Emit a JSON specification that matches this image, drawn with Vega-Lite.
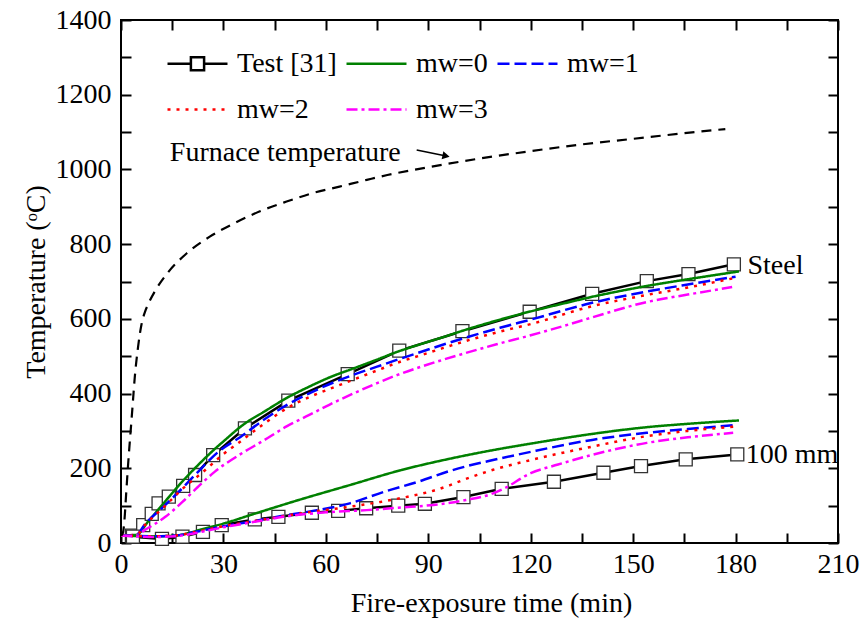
{
 "$schema": "https://vega.github.io/schema/vega-lite/v6.json",
 "width": 717,
 "height": 523,
 "autosize": {"type": "none"},
 "padding": {"left": 121, "top": 20, "right": 26, "bottom": 78},
 "background": "white",
 "config": {
  "view": {"stroke": "black", "strokeWidth": 2},
  "font": "Liberation Serif",
  "axis": {"labelFont": "Liberation Serif", "titleFont": "Liberation Serif", "labelFontSize": 28, "titleFontSize": 28, "labelColor": "black", "titleColor": "black", "titleFontWeight": "normal", "tickColor": "black", "tickWidth": 2, "grid": false, "domain": false, "labelFlush": false, "labelOverlap": false, "labelBound": false}
 },
 "datasets": {
  "curves": [
   {"series":"Test [31]","loc":"Steel","t":3.2,"T":20},{"series":"Test [31]","loc":"Steel","t":6.5,"T":48},{"series":"Test [31]","loc":"Steel","t":9,"T":78},{"series":"Test [31]","loc":"Steel","t":11,"T":106},{"series":"Test [31]","loc":"Steel","t":14,"T":124},{"series":"Test [31]","loc":"Steel","t":18.2,"T":153},{"series":"Test [31]","loc":"Steel","t":21.7,"T":182},{"series":"Test [31]","loc":"Steel","t":27,"T":235},{"series":"Test [31]","loc":"Steel","t":36.3,"T":307},{"series":"Test [31]","loc":"Steel","t":49,"T":381},{"series":"Test [31]","loc":"Steel","t":66.4,"T":452},{"series":"Test [31]","loc":"Steel","t":81.5,"T":515},{"series":"Test [31]","loc":"Steel","t":100,"T":567},{"series":"Test [31]","loc":"Steel","t":119.7,"T":619},{"series":"Test [31]","loc":"Steel","t":138,"T":667},{"series":"Test [31]","loc":"Steel","t":154,"T":701},{"series":"Test [31]","loc":"Steel","t":166.2,"T":720},{"series":"Test [31]","loc":"Steel","t":179.5,"T":746},
   {"series":"Test [31]","loc":"100 mm","t":3.5,"T":17},{"series":"Test [31]","loc":"100 mm","t":12,"T":11},{"series":"Test [31]","loc":"100 mm","t":18,"T":17},{"series":"Test [31]","loc":"100 mm","t":24,"T":30},{"series":"Test [31]","loc":"100 mm","t":29.5,"T":48},{"series":"Test [31]","loc":"100 mm","t":39.2,"T":63},{"series":"Test [31]","loc":"100 mm","t":46.1,"T":70},{"series":"Test [31]","loc":"100 mm","t":55.9,"T":81},{"series":"Test [31]","loc":"100 mm","t":63.6,"T":86},{"series":"Test [31]","loc":"100 mm","t":71.8,"T":93},{"series":"Test [31]","loc":"100 mm","t":81.2,"T":100},{"series":"Test [31]","loc":"100 mm","t":89,"T":105},{"series":"Test [31]","loc":"100 mm","t":100.3,"T":123},{"series":"Test [31]","loc":"100 mm","t":111.5,"T":145},{"series":"Test [31]","loc":"100 mm","t":126.8,"T":164},{"series":"Test [31]","loc":"100 mm","t":141.3,"T":188},{"series":"Test [31]","loc":"100 mm","t":152.3,"T":206},{"series":"Test [31]","loc":"100 mm","t":165.4,"T":224},{"series":"Test [31]","loc":"100 mm","t":180.5,"T":237},
   {"series":"mw=0","loc":"Steel","t":0,"T":20},{"series":"mw=0","loc":"Steel","t":4.5,"T":22},{"series":"mw=0","loc":"Steel","t":8,"T":58},{"series":"mw=0","loc":"Steel","t":13,"T":112},{"series":"mw=0","loc":"Steel","t":18,"T":165},{"series":"mw=0","loc":"Steel","t":22.5,"T":208},{"series":"mw=0","loc":"Steel","t":27.5,"T":252},{"series":"mw=0","loc":"Steel","t":30,"T":272},{"series":"mw=0","loc":"Steel","t":36,"T":318},{"series":"mw=0","loc":"Steel","t":42,"T":352},{"series":"mw=0","loc":"Steel","t":48.5,"T":388},{"series":"mw=0","loc":"Steel","t":55,"T":418},{"series":"mw=0","loc":"Steel","t":61,"T":443},{"series":"mw=0","loc":"Steel","t":68,"T":467},{"series":"mw=0","loc":"Steel","t":75,"T":491},{"series":"mw=0","loc":"Steel","t":81,"T":512},{"series":"mw=0","loc":"Steel","t":88,"T":533},{"series":"mw=0","loc":"Steel","t":94,"T":550},{"series":"mw=0","loc":"Steel","t":100,"T":568},{"series":"mw=0","loc":"Steel","t":111,"T":598},{"series":"mw=0","loc":"Steel","t":120,"T":620},{"series":"mw=0","loc":"Steel","t":130,"T":642},{"series":"mw=0","loc":"Steel","t":138,"T":659},{"series":"mw=0","loc":"Steel","t":154,"T":688},{"series":"mw=0","loc":"Steel","t":166,"T":706},{"series":"mw=0","loc":"Steel","t":181,"T":727},
   {"series":"mw=1","loc":"Steel","t":0,"T":20},{"series":"mw=1","loc":"Steel","t":4.5,"T":22},{"series":"mw=1","loc":"Steel","t":7,"T":50},{"series":"mw=1","loc":"Steel","t":13,"T":102},{"series":"mw=1","loc":"Steel","t":18,"T":147},{"series":"mw=1","loc":"Steel","t":22.5,"T":190},{"series":"mw=1","loc":"Steel","t":28.5,"T":244},{"series":"mw=1","loc":"Steel","t":35,"T":284},{"series":"mw=1","loc":"Steel","t":41.7,"T":329},{"series":"mw=1","loc":"Steel","t":48.5,"T":369},{"series":"mw=1","loc":"Steel","t":55,"T":400},{"series":"mw=1","loc":"Steel","t":61,"T":425},{"series":"mw=1","loc":"Steel","t":68,"T":450},{"series":"mw=1","loc":"Steel","t":75,"T":472},{"series":"mw=1","loc":"Steel","t":82,"T":494},{"series":"mw=1","loc":"Steel","t":88,"T":512},{"series":"mw=1","loc":"Steel","t":94,"T":530},{"series":"mw=1","loc":"Steel","t":100,"T":547},{"series":"mw=1","loc":"Steel","t":111,"T":576},{"series":"mw=1","loc":"Steel","t":120,"T":598},{"series":"mw=1","loc":"Steel","t":138,"T":643},{"series":"mw=1","loc":"Steel","t":154,"T":673},{"series":"mw=1","loc":"Steel","t":166,"T":692},{"series":"mw=1","loc":"Steel","t":180,"T":713},
   {"series":"mw=2","loc":"Steel","t":0,"T":20},{"series":"mw=2","loc":"Steel","t":4.5,"T":22},{"series":"mw=2","loc":"Steel","t":7,"T":48},{"series":"mw=2","loc":"Steel","t":13,"T":100},{"series":"mw=2","loc":"Steel","t":18,"T":145},{"series":"mw=2","loc":"Steel","t":24,"T":190},{"series":"mw=2","loc":"Steel","t":30,"T":238},{"series":"mw=2","loc":"Steel","t":35,"T":272},{"series":"mw=2","loc":"Steel","t":42,"T":320},{"series":"mw=2","loc":"Steel","t":48.5,"T":360},{"series":"mw=2","loc":"Steel","t":55,"T":390},{"series":"mw=2","loc":"Steel","t":61,"T":412},{"series":"mw=2","loc":"Steel","t":68,"T":437},{"series":"mw=2","loc":"Steel","t":75,"T":462},{"series":"mw=2","loc":"Steel","t":82,"T":486},{"series":"mw=2","loc":"Steel","t":88,"T":503},{"series":"mw=2","loc":"Steel","t":94,"T":521},{"series":"mw=2","loc":"Steel","t":100,"T":538},{"series":"mw=2","loc":"Steel","t":111,"T":566},{"series":"mw=2","loc":"Steel","t":120,"T":586},{"series":"mw=2","loc":"Steel","t":138,"T":634},{"series":"mw=2","loc":"Steel","t":154,"T":664},{"series":"mw=2","loc":"Steel","t":166,"T":684},{"series":"mw=2","loc":"Steel","t":179,"T":708},
   {"series":"mw=3","loc":"Steel","t":0,"T":20},{"series":"mw=3","loc":"Steel","t":4.5,"T":21},{"series":"mw=3","loc":"Steel","t":7,"T":35},{"series":"mw=3","loc":"Steel","t":13,"T":70},{"series":"mw=3","loc":"Steel","t":18,"T":110},{"series":"mw=3","loc":"Steel","t":22.5,"T":150},{"series":"mw=3","loc":"Steel","t":27.5,"T":191},{"series":"mw=3","loc":"Steel","t":35,"T":238},{"series":"mw=3","loc":"Steel","t":41.7,"T":274},{"series":"mw=3","loc":"Steel","t":48.5,"T":312},{"series":"mw=3","loc":"Steel","t":55,"T":342},{"series":"mw=3","loc":"Steel","t":61,"T":370},{"series":"mw=3","loc":"Steel","t":68,"T":400},{"series":"mw=3","loc":"Steel","t":75,"T":428},{"series":"mw=3","loc":"Steel","t":81,"T":450},{"series":"mw=3","loc":"Steel","t":87.6,"T":471},{"series":"mw=3","loc":"Steel","t":93.4,"T":488},{"series":"mw=3","loc":"Steel","t":100,"T":506},{"series":"mw=3","loc":"Steel","t":110,"T":532},{"series":"mw=3","loc":"Steel","t":120,"T":556},{"series":"mw=3","loc":"Steel","t":130,"T":582},{"series":"mw=3","loc":"Steel","t":138,"T":604},{"series":"mw=3","loc":"Steel","t":154,"T":645},{"series":"mw=3","loc":"Steel","t":166,"T":665},{"series":"mw=3","loc":"Steel","t":179,"T":685},
   {"series":"mw=0","loc":"100 mm","t":0,"T":20},{"series":"mw=0","loc":"100 mm","t":10,"T":18},{"series":"mw=0","loc":"100 mm","t":16,"T":20},{"series":"mw=0","loc":"100 mm","t":20,"T":27},{"series":"mw=0","loc":"100 mm","t":23,"T":35},{"series":"mw=0","loc":"100 mm","t":30,"T":52},{"series":"mw=0","loc":"100 mm","t":39,"T":78},{"series":"mw=0","loc":"100 mm","t":52,"T":115},{"series":"mw=0","loc":"100 mm","t":67,"T":155},{"series":"mw=0","loc":"100 mm","t":82,"T":195},{"series":"mw=0","loc":"100 mm","t":96,"T":225},{"series":"mw=0","loc":"100 mm","t":111,"T":252},{"series":"mw=0","loc":"100 mm","t":120,"T":266},{"series":"mw=0","loc":"100 mm","t":138,"T":292},{"series":"mw=0","loc":"100 mm","t":154,"T":310},{"series":"mw=0","loc":"100 mm","t":166,"T":319},{"series":"mw=0","loc":"100 mm","t":181,"T":328},
   {"series":"mw=1","loc":"100 mm","t":0,"T":20},{"series":"mw=1","loc":"100 mm","t":10,"T":18},{"series":"mw=1","loc":"100 mm","t":16,"T":20},{"series":"mw=1","loc":"100 mm","t":22,"T":30},{"series":"mw=1","loc":"100 mm","t":30,"T":45},{"series":"mw=1","loc":"100 mm","t":38,"T":57},{"series":"mw=1","loc":"100 mm","t":47,"T":72},{"series":"mw=1","loc":"100 mm","t":55,"T":84},{"series":"mw=1","loc":"100 mm","t":67,"T":106},{"series":"mw=1","loc":"100 mm","t":77,"T":137},{"series":"mw=1","loc":"100 mm","t":87,"T":164},{"series":"mw=1","loc":"100 mm","t":96,"T":192},{"series":"mw=1","loc":"100 mm","t":101,"T":205},{"series":"mw=1","loc":"100 mm","t":108,"T":220},{"series":"mw=1","loc":"100 mm","t":120,"T":244},{"series":"mw=1","loc":"100 mm","t":138,"T":276},{"series":"mw=1","loc":"100 mm","t":154,"T":295},{"series":"mw=1","loc":"100 mm","t":166,"T":305},{"series":"mw=1","loc":"100 mm","t":180,"T":316},
   {"series":"mw=2","loc":"100 mm","t":0,"T":20},{"series":"mw=2","loc":"100 mm","t":10,"T":18},{"series":"mw=2","loc":"100 mm","t":16,"T":20},{"series":"mw=2","loc":"100 mm","t":22,"T":30},{"series":"mw=2","loc":"100 mm","t":30,"T":45},{"series":"mw=2","loc":"100 mm","t":40,"T":60},{"series":"mw=2","loc":"100 mm","t":47.5,"T":72},{"series":"mw=2","loc":"100 mm","t":57,"T":85},{"series":"mw=2","loc":"100 mm","t":67,"T":97},{"series":"mw=2","loc":"100 mm","t":76,"T":110},{"series":"mw=2","loc":"100 mm","t":84,"T":124},{"series":"mw=2","loc":"100 mm","t":91.5,"T":140},{"series":"mw=2","loc":"100 mm","t":96.4,"T":155},{"series":"mw=2","loc":"100 mm","t":100,"T":168},{"series":"mw=2","loc":"100 mm","t":109,"T":196},{"series":"mw=2","loc":"100 mm","t":120,"T":222},{"series":"mw=2","loc":"100 mm","t":138,"T":258},{"series":"mw=2","loc":"100 mm","t":154,"T":286},{"series":"mw=2","loc":"100 mm","t":166,"T":300},{"series":"mw=2","loc":"100 mm","t":179.3,"T":311},
   {"series":"mw=3","loc":"100 mm","t":0,"T":20},{"series":"mw=3","loc":"100 mm","t":10,"T":16},{"series":"mw=3","loc":"100 mm","t":16,"T":18},{"series":"mw=3","loc":"100 mm","t":22,"T":27},{"series":"mw=3","loc":"100 mm","t":30,"T":42},{"series":"mw=3","loc":"100 mm","t":40,"T":58},{"series":"mw=3","loc":"100 mm","t":47.5,"T":70},{"series":"mw=3","loc":"100 mm","t":60,"T":82},{"series":"mw=3","loc":"100 mm","t":72,"T":88},{"series":"mw=3","loc":"100 mm","t":82,"T":95},{"series":"mw=3","loc":"100 mm","t":91.5,"T":102},{"series":"mw=3","loc":"100 mm","t":101,"T":115},{"series":"mw=3","loc":"100 mm","t":109,"T":133},{"series":"mw=3","loc":"100 mm","t":112,"T":145},{"series":"mw=3","loc":"100 mm","t":120,"T":187},{"series":"mw=3","loc":"100 mm","t":128,"T":210},{"series":"mw=3","loc":"100 mm","t":138,"T":236},{"series":"mw=3","loc":"100 mm","t":154,"T":268},{"series":"mw=3","loc":"100 mm","t":166,"T":283},{"series":"mw=3","loc":"100 mm","t":179.3,"T":295}
  ],
  "furnace": [
   {"t":0,"T":20},{"t":0.5,"T":25},{"t":1,"T":60},{"t":1.5,"T":130},{"t":2,"T":200},{"t":2.5,"T":262},{"t":3,"T":320},{"t":3.5,"T":380},{"t":4,"T":440},{"t":5,"T":525},{"t":6,"T":585},{"t":7,"T":618},{"t":8,"T":640},{"t":10,"T":675},{"t":13.4,"T":720},{"t":19.2,"T":775},{"t":26,"T":820},{"t":33,"T":855},{"t":40.7,"T":888},{"t":48.5,"T":914},{"t":56.3,"T":937},{"t":64,"T":954},{"t":72,"T":972},{"t":78,"T":985},{"t":90,"T":1006},{"t":105,"T":1029},{"t":120,"T":1049},{"t":135,"T":1067},{"t":150,"T":1082},{"t":165,"T":1097},{"t":177,"T":1108}
  ],
  "labels": [
   {"label": "Steel"}, {"label": "100 mm"}, {"label": "Furnace temperature"}
  ]
 },
 "layer": [
  {"data": {"name": "curves"}, "transform": [{"filter": "datum.series === 'Test [31]'"}],
   "mark": {"type": "line", "strokeWidth": 2.5, "color": "black"},
   "encoding": {
    "detail": {"field": "loc"},
    "x": {"field": "t", "type": "quantitative", "scale": {"domain": [0, 210], "nice": false, "zero": false},
     "axis": {"orient": "bottom", "values": [0,15,30,45,60,75,90,105,120,135,150,165,180,195,210], "format": "d", "labelExpr": "datum.value % 30 === 0 ? datum.label : ''", "tickSize": -10, "labelPadding": 17, "title": "Fire-exposure time (min)", "titlePadding": 11, "titleX": 370,
      "encode": {"ticks": {"update": {"y2": {"signal": "datum.value % 30 === 0 ? -10 : -5"}}}}}},
    "y": {"field": "T", "type": "quantitative", "scale": {"domain": [0, 1400], "nice": false, "zero": false},
     "axis": {"orient": "left", "values": [0,100,200,300,400,500,600,700,800,900,1000,1100,1200,1300,1400], "format": "d", "labelExpr": "datum.value % 200 === 0 ? datum.label : ''", "tickSize": -10, "labelPadding": 20, "title": "Temperature (ᵒC)", "titlePadding": 5,
      "encode": {"ticks": {"update": {"x2": {"signal": "datum.value % 200 === 0 ? 10 : 5"}}}}}}
   }},
  {"data": {"name": "curves"}, "transform": [{"filter": "datum.series === 'Test [31]'"}],
   "mark": {"type": "point", "shape": "square", "size": 169, "filled": true, "fill": "white", "stroke": "#333333", "strokeWidth": 1.3, "opacity": 1},
   "encoding": {
    "x": {"field": "t", "type": "quantitative", "axis": null},
    "y": {"field": "T", "type": "quantitative", "axis": null}
   }},
  {"data": {"name": "curves"}, "transform": [{"filter": "datum.series !== 'Test [31]'"}],
   "mark": {"type": "line", "strokeWidth": 2.5, "interpolate": "monotone"},
   "encoding": {
    "x": {"field": "t", "type": "quantitative", "axis": null},
    "y": {"field": "T", "type": "quantitative", "axis": null},
    "detail": {"field": "loc"},
    "color": {"field": "series", "type": "nominal", "scale": {"domain": ["Test [31]","mw=0","mw=1","mw=2","mw=3"], "range": ["black","#008000","#0000ff","#ff0000","#ff00ff"]},
     "legend": {"orient": "none", "direction": "horizontal", "legendX": 45, "legendY": 12, "columns": 3, "title": null, "symbolType": "stroke", "symbolSize": 3600, "symbolStrokeWidth": 2.5, "labelFont": "Liberation Serif", "labelFontSize": 28, "labelColor": "black", "labelOffset": 8, "rowPadding": -2, "columnPadding": 4, "padding": 0,
      "encode": {"symbols": {"update": {"shape": {"signal": "datum.value === 'Test [31]' ? 'M-1,0H-0.22M0.22,0H1M-0.22,-0.22H0.22V0.22H-0.22Z' : 'stroke'"}, "fill": {"value": "white"}}}}}},
    "strokeDash": {"field": "series", "type": "nominal", "scale": {"domain": ["Test [31]","mw=0","mw=1","mw=2","mw=3"], "range": [[1,0],[1,0],[12,5],[3,6],[11,4,3,4]]},
     "legend": {"orient": "none", "direction": "horizontal", "legendX": 45, "legendY": 12, "columns": 3, "title": null, "symbolType": "stroke", "symbolSize": 3600, "symbolStrokeWidth": 2.5, "labelFont": "Liberation Serif", "labelFontSize": 28, "labelColor": "black", "labelOffset": 8, "rowPadding": -2, "columnPadding": 4, "padding": 0,
      "encode": {"symbols": {"update": {"shape": {"signal": "datum.value === 'Test [31]' ? 'M-1,0H-0.22M0.22,0H1M-0.22,-0.22H0.22V0.22H-0.22Z' : 'stroke'"}, "fill": {"value": "white"}}}}}}
   }},
  {"data": {"name": "labels"}, "transform": [{"filter": "datum.label === 'Steel'"}],
   "mark": {"type": "text", "align": "left", "baseline": "middle", "fontSize": 28, "font": "Liberation Serif", "color": "black"},
   "encoding": {"text": {"field": "label"}, "x": {"datum": 183.5, "type": "quantitative", "axis": null}, "y": {"datum": 742, "type": "quantitative", "axis": null}}},
  {"data": {"name": "labels"}, "transform": [{"filter": "datum.label === '100 mm'"}],
   "mark": {"type": "text", "align": "left", "baseline": "middle", "fontSize": 28, "font": "Liberation Serif", "color": "black"},
   "encoding": {"text": {"field": "label"}, "x": {"datum": 183, "type": "quantitative", "axis": null}, "y": {"datum": 236, "type": "quantitative", "axis": null}}},
  {"data": {"name": "labels"}, "transform": [{"filter": "datum.label === 'Furnace temperature'"}],
   "mark": {"type": "text", "align": "left", "baseline": "middle", "fontSize": 28, "font": "Liberation Serif", "color": "black"},
   "encoding": {"text": {"field": "label"}, "x": {"datum": 14.3, "type": "quantitative", "axis": null}, "y": {"datum": 1044, "type": "quantitative", "axis": null}}},
  {"data": {"name": "labels"}, "transform": [{"filter": "datum.label === 'Furnace temperature'"}],
   "mark": {"type": "rule", "color": "black", "strokeWidth": 1.5},
   "encoding": {"x": {"datum": 86.6, "type": "quantitative", "axis": null}, "y": {"datum": 1052, "type": "quantitative", "axis": null}, "x2": {"datum": 94.5}, "y2": {"datum": 1037}}},
  {"data": {"name": "labels"}, "transform": [{"filter": "datum.label === 'Furnace temperature'"}],
   "mark": {"type": "point", "shape": "triangle-right", "size": 70, "filled": true, "color": "black", "opacity": 1, "angle": 12},
   "encoding": {"x": {"datum": 95.2, "type": "quantitative", "axis": null}, "y": {"datum": 1036, "type": "quantitative", "axis": null}}},
  {"data": {"name": "furnace"},
   "mark": {"type": "line", "color": "black", "strokeWidth": 2.2, "strokeDash": [10, 7], "interpolate": "monotone"},
   "encoding": {
    "x": {"field": "t", "type": "quantitative",
     "axis": {"orient": "top", "values": [0,15,30,45,60,75,90,105,120,135,150,165,180,195,210], "labels": false, "title": null, "tickSize": -10,
      "encode": {"ticks": {"update": {"y2": {"signal": "datum.value % 30 === 0 ? 10 : 5"}}}}}},
    "y": {"field": "T", "type": "quantitative",
     "axis": {"orient": "right", "values": [0,100,200,300,400,500,600,700,800,900,1000,1100,1200,1300,1400], "labels": false, "title": null, "tickSize": -10,
      "encode": {"ticks": {"update": {"x2": {"signal": "datum.value % 200 === 0 ? -10 : -5"}}}}}}
   }}
 ],
 "resolve": {"axis": {"x": "independent", "y": "independent"}}
}
